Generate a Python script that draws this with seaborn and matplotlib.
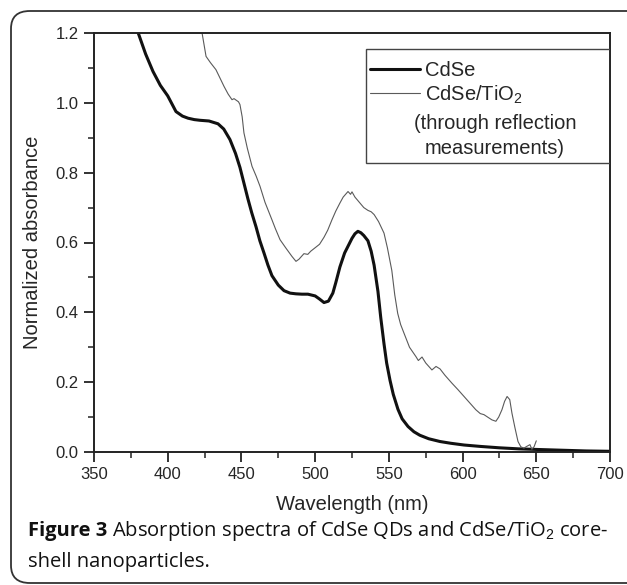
import numpy as np
import pandas as pd
import matplotlib
matplotlib.use("Agg")
import matplotlib.pyplot as plt
import seaborn as sns
from matplotlib.patches import FancyBboxPatch, Rectangle
from matplotlib.lines import Line2D

# CdSe QDs (thick line)
cdse_wl = [376, 380, 385, 390, 395, 400, 405.6, 410, 413.8, 418, 421.9, 428, 434.1, 438,
           442.2, 446, 449, 452, 454.4, 457, 459.9, 462.5, 465.3, 468, 470.7, 475, 478.9,
           483, 487, 491, 495.1, 500, 503, 506, 509, 512, 514, 516.8, 520, 525, 527, 529,
           531, 533, 535.8, 538, 540, 542.6, 544.5, 546.7, 548.5, 550.8, 553, 556.2, 559,
           563, 567, 571, 577, 584.7, 592, 601, 612, 625, 638, 652.5, 668, 684, 700]
cdse_abs = [1.26, 1.20, 1.14, 1.09, 1.05, 1.02, 0.975, 0.962, 0.956, 0.952, 0.950, 0.948,
            0.940, 0.925, 0.895, 0.855, 0.815, 0.765, 0.725, 0.685, 0.645, 0.605, 0.570,
            0.535, 0.505, 0.478, 0.462, 0.455, 0.453, 0.452, 0.452, 0.447, 0.438, 0.428,
            0.432, 0.455, 0.485, 0.530, 0.570, 0.612, 0.625, 0.632, 0.628, 0.620, 0.605,
            0.575, 0.535, 0.460, 0.385, 0.310, 0.255, 0.205, 0.165, 0.122, 0.095, 0.073,
            0.058, 0.048, 0.038, 0.030, 0.025, 0.020, 0.016, 0.012, 0.009, 0.007, 0.005,
            0.003, 0.002]

# CdSe/TiO2 core-shell (thin line, through reflection measurements)
tio2_wl = [421, 423.3, 426, 429, 432.7, 435, 438.2, 441, 443.6, 445, 446.3, 448, 449,
           450.5, 451.7, 454, 457.2, 460, 462.6, 466, 470.7, 473, 476.2, 480, 484.3, 487,
           489, 492.4, 495, 497, 500.6, 503, 506, 508.5, 511.4, 514, 516.8, 519, 522.3,
           524, 525, 527, 530.4, 533, 535.8, 538, 540, 543, 546.7, 549, 552, 554, 556,
           558, 560.3, 564, 568.4, 570, 572.5, 575, 579.2, 582, 584.7, 588, 592.8, 597, 601,
           605, 609, 612, 614.5, 617, 619.9, 622.6, 624.5, 626.7, 628.5, 630.2, 632,
           633.5, 635.5, 637.6, 639.5, 641.6, 643.5, 645.7, 647, 648.5, 650]
tio2_abs = [1.24, 1.20, 1.133, 1.115, 1.095, 1.075, 1.047, 1.025, 1.009, 1.012, 1.008,
            1.003, 0.995, 0.960, 0.914, 0.870, 0.818, 0.790, 0.761, 0.715, 0.665, 0.640,
            0.608, 0.585, 0.560, 0.546, 0.552, 0.568, 0.566, 0.575, 0.587, 0.595, 0.615,
            0.635, 0.665, 0.690, 0.713, 0.730, 0.746, 0.738, 0.745, 0.730, 0.713, 0.700,
            0.692, 0.688, 0.680, 0.660, 0.627, 0.585, 0.520, 0.450, 0.397, 0.365, 0.340,
            0.300, 0.273, 0.262, 0.272, 0.255, 0.235, 0.245, 0.238, 0.220, 0.197, 0.178,
            0.159, 0.140, 0.121, 0.110, 0.107, 0.100, 0.092, 0.088, 0.100, 0.121, 0.145,
            0.159, 0.150, 0.111, 0.070, 0.030, 0.015, 0.011, 0.016, 0.021, 0.008, 0.015,
            0.032]

x_ticks = [350, 400, 450, 500, 550, 600, 650, 700]
y_ticks = [0.0, 0.2, 0.4, 0.6, 0.8, 1.0, 1.2]

sns.set_style("ticks")
plt.rcParams["font.family"] = ["Liberation Sans", "DejaVu Sans"]
plt.rcParams["mathtext.fontset"] = "custom"
plt.rcParams["mathtext.rm"] = "Liberation Sans"

fig = plt.figure(figsize=(6.27, 5.85), dpi=100)
W, H = 627, 585

# rounded outer frame
frame = FancyBboxPatch((11 / W, 2 / H), 640 / W, 572 / H,
                       boxstyle="round,pad=0,rounding_size=0.03",
                       transform=fig.transFigure, fill=False,
                       edgecolor="#333333", linewidth=1.3, clip_on=False)
fig.patches.append(frame)

ax = fig.add_axes([94 / W, 1 - 452 / H, 516 / W, 419 / H])

df1 = pd.DataFrame({"wl": cdse_wl, "a": cdse_abs})
df2 = pd.DataFrame({"wl": tio2_wl, "a": tio2_abs})
sns.lineplot(data=df1, x="wl", y="a", ax=ax, color="#111111", linewidth=2.2,
             sort=False, estimator=None)
sns.lineplot(data=df2, x="wl", y="a", ax=ax, color="#5a5a5a", linewidth=0.8,
             sort=False, estimator=None)

ax.set_xlim(350, 700)
ax.set_ylim(0, 1.2)
ax.set_xticks(x_ticks)
ax.set_yticks(y_ticks)
ax.set_xticks([375, 425, 475, 525, 575, 625, 675], minor=True)
ax.set_yticks([0.1, 0.3, 0.5, 0.7, 0.9, 1.1], minor=True)
ax.set_yticklabels([f"{v:.1f}" for v in y_ticks])
ax.tick_params(which="major", direction="out", length=7, width=1.3,
               labelsize=12, color="#222222", pad=4)
ax.tick_params(which="minor", direction="out", length=4, width=1.1, color="#222222")
for s in ax.spines.values():
    s.set_linewidth(1.4)
    s.set_color("#222222")
ax.set_xlabel("Wavelength (nm)", fontsize=14.5, labelpad=9)
ax.set_ylabel("Normalized absorbance", fontsize=14.5, labelpad=10)

# legend box
ax.add_patch(Rectangle((0.527, 0.690), 0.473, 0.272, transform=ax.transAxes,
                       fill=False, edgecolor="#444444", linewidth=1.0, zorder=5))
handles = [Line2D([], [], color="#111111", lw=2.2),
           Line2D([], [], color="#5a5a5a", lw=0.8)]
ax.legend(handles, ["CdSe", "CdSe/TiO$_2$"], loc="upper left",
          bbox_to_anchor=(0.535, 0.934), frameon=False, fontsize=14.5,
          handlelength=2.5, handletextpad=0.25, labelspacing=0.18,
          borderpad=0.0, borderaxespad=0)
ax.text(0.777, 0.785, "(through reflection", transform=ax.transAxes,
        ha="center", va="center", fontsize=14.5)
ax.text(0.777, 0.7255, "measurements)", transform=ax.transAxes,
        ha="center", va="center", fontsize=14.5)

# caption
cap_font = ["Open Sans", "DejaVu Sans"]
t1 = fig.text(28 / W, 1 - 531 / H, "Figure 3", fontsize=14.5, fontweight="bold",
              family=cap_font, va="center", color="#111111")
ax.annotate(" Absorption spectra of CdSe QDs and CdSe/TiO$_2$ core-",
            xy=(1, 0.5), xycoords=t1, va="center", ha="left",
            fontsize=14.5, family=cap_font, color="#111111", annotation_clip=False)
fig.text(28 / W, 1 - 562 / H, "shell nanoparticles.", fontsize=14.5,
         family=cap_font, va="center", color="#111111")

fig.savefig("out.png", dpi=100)
